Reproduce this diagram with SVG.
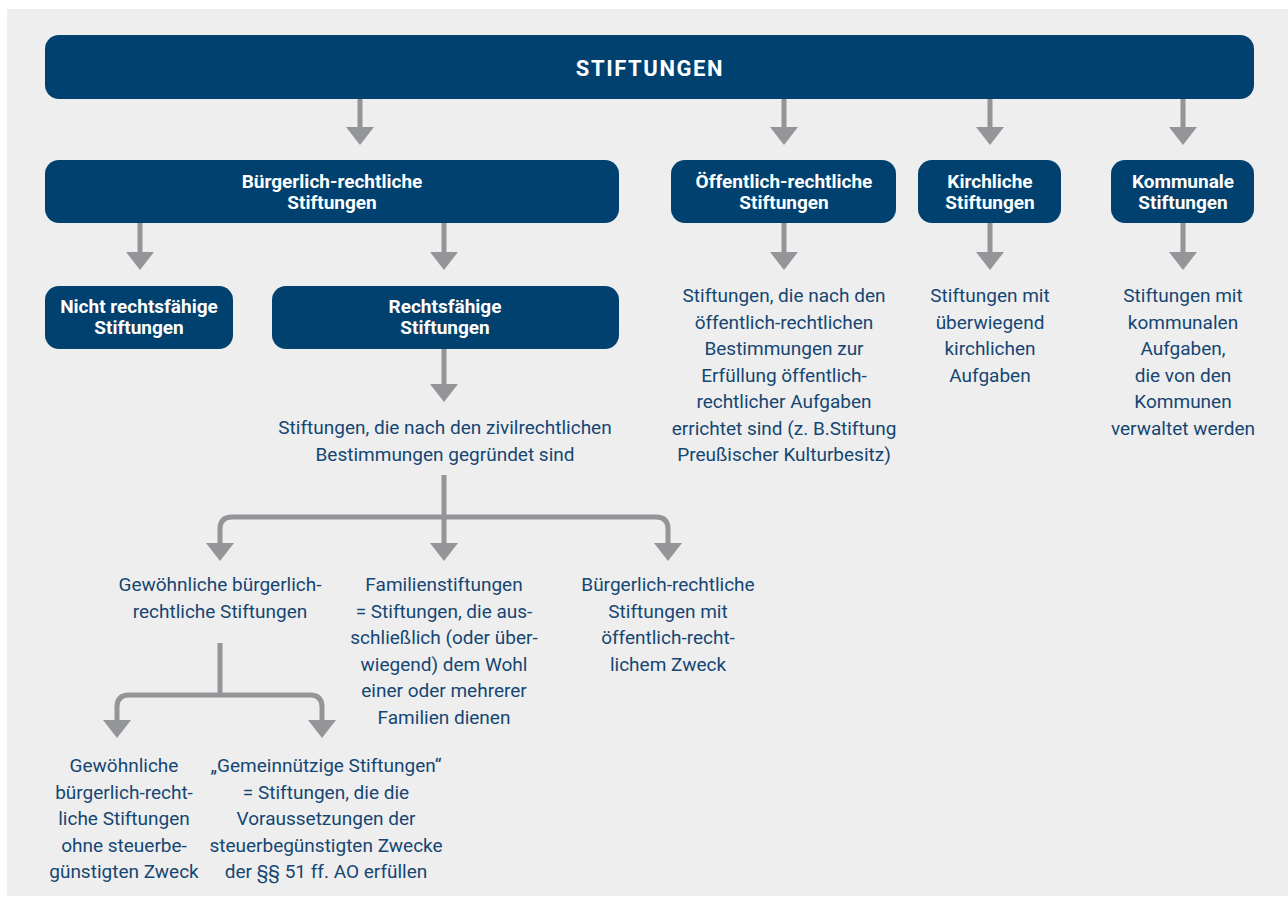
<svg xmlns="http://www.w3.org/2000/svg" width="1288" height="897" viewBox="0 0 1288 897">
  <style>
    .box { fill: #01416f; }
    .lbl { font-family: Roboto, "Liberation Sans", sans-serif; font-weight: bold; font-size: 19px; fill: #ffffff; text-anchor: middle; }
    .txt { font-family: Roboto, "Liberation Sans", sans-serif; font-size: 19px; fill: #154673; text-anchor: middle; }
    .con { fill: none; stroke: #939598; stroke-width: 5; }
  </style>
  <defs>
    <marker id="ah" viewBox="0 -14 18 28" refX="0" refY="0" markerWidth="18" markerHeight="28" markerUnits="userSpaceOnUse" orient="auto">
      <path d="M0,-14 L18,0 L0,14 z" fill="#939598"/>
    </marker>
  </defs>
  <rect x="0" y="0" width="1288" height="897" fill="#ffffff"/>
  <rect x="7" y="9" width="1281" height="887" fill="#eeeeee"/>

  <g id="connectors">
    <path class="con" d="M360,99 V127" marker-end="url(#ah)"/>
    <path class="con" d="M784,99 V127" marker-end="url(#ah)"/>
    <path class="con" d="M990,99 V127" marker-end="url(#ah)"/>
    <path class="con" d="M1183,99 V127" marker-end="url(#ah)"/>
    <path class="con" d="M140,223 V252" marker-end="url(#ah)"/>
    <path class="con" d="M444,223 V252" marker-end="url(#ah)"/>
    <path class="con" d="M784,223 V252" marker-end="url(#ah)"/>
    <path class="con" d="M990,223 V252" marker-end="url(#ah)"/>
    <path class="con" d="M1183,223 V252" marker-end="url(#ah)"/>
    <path class="con" d="M444,349 V384" marker-end="url(#ah)"/>
    <path class="con" d="M444,475 V543" marker-end="url(#ah)"/>
    <path class="con" d="M444,517 H232 Q220,517 220,529 V543" marker-end="url(#ah)"/>
    <path class="con" d="M444,517 H656 Q668,517 668,529 V543" marker-end="url(#ah)"/>
    <path class="con" d="M220,643 V695"/>
    <path class="con" d="M220,695 H129 Q117,695 117,707 V720" marker-end="url(#ah)"/>
    <path class="con" d="M220,695 H310 Q322,695 322,707 V720" marker-end="url(#ah)"/>
  </g>

  <g id="stiftungen">
    <rect class="box" x="45" y="35" width="1209" height="64" rx="14"/>
    <text class="lbl" x="650" y="76" style="font-size:22px;letter-spacing:1.6px">STIFTUNGEN</text>
  </g>
  <g id="buergerlich">
    <rect class="box" x="45" y="160" width="574" height="63" rx="14"/>
    <text class="lbl" x="332" y="188">Bürgerlich-rechtliche</text>
    <text class="lbl" x="332" y="209">Stiftungen</text>
  </g>
  <g id="oeffentlich">
    <rect class="box" x="671" y="160" width="225" height="63" rx="14"/>
    <text class="lbl" x="784" y="188">Öffentlich-rechtliche</text>
    <text class="lbl" x="784" y="209">Stiftungen</text>
  </g>
  <g id="kirchlich">
    <rect class="box" x="918" y="160" width="143" height="63" rx="14"/>
    <text class="lbl" x="990" y="188">Kirchliche</text>
    <text class="lbl" x="990" y="209">Stiftungen</text>
  </g>
  <g id="kommunal">
    <rect class="box" x="1111" y="160" width="143" height="63" rx="14"/>
    <text class="lbl" x="1183" y="188">Kommunale</text>
    <text class="lbl" x="1183" y="209">Stiftungen</text>
  </g>
  <g id="nicht-rechtsfaehig">
    <rect class="box" x="45" y="286" width="188" height="63" rx="14"/>
    <text class="lbl" x="139" y="313">Nicht rechtsfähige</text>
    <text class="lbl" x="139" y="334">Stiftungen</text>
  </g>
  <g id="rechtsfaehig">
    <rect class="box" x="272" y="286" width="347" height="63" rx="14"/>
    <text class="lbl" x="445" y="313">Rechtsfähige</text>
    <text class="lbl" x="445" y="334">Stiftungen</text>
  </g>

  <g id="oeffentlich-text">
    <text class="txt" x="784" y="302">Stiftungen, die nach den</text>
    <text class="txt" x="784" y="328.5">öffentlich-rechtlichen</text>
    <text class="txt" x="784" y="355">Bestimmungen zur</text>
    <text class="txt" x="784" y="381.5">Erfüllung öffentlich-</text>
    <text class="txt" x="784" y="408">rechtlicher Aufgaben</text>
    <text class="txt" x="784" y="434.5">errichtet sind (z. B.Stiftung</text>
    <text class="txt" x="784" y="461">Preußischer Kulturbesitz)</text>
  </g>
  <g id="kirchlich-text">
    <text class="txt" x="990" y="302">Stiftungen mit</text>
    <text class="txt" x="990" y="328.5">überwiegend</text>
    <text class="txt" x="990" y="355">kirchlichen</text>
    <text class="txt" x="990" y="381.5">Aufgaben</text>
  </g>
  <g id="kommunal-text">
    <text class="txt" x="1183" y="302">Stiftungen mit</text>
    <text class="txt" x="1183" y="328.5">kommunalen</text>
    <text class="txt" x="1183" y="355">Aufgaben,</text>
    <text class="txt" x="1183" y="381.5">die von den</text>
    <text class="txt" x="1183" y="408">Kommunen</text>
    <text class="txt" x="1183" y="434.5">verwaltet werden</text>
  </g>
  <g id="zivilrecht-text">
    <text class="txt" x="445" y="434">Stiftungen, die nach den zivilrechtlichen</text>
    <text class="txt" x="445" y="461">Bestimmungen gegründet sind</text>
  </g>
  <g id="gewoehnliche">
    <text class="txt" x="220" y="591">Gewöhnliche bürgerlich-</text>
    <text class="txt" x="220" y="618">rechtliche Stiftungen</text>
  </g>
  <g id="familien">
    <text class="txt" x="444" y="591">Familienstiftungen</text>
    <text class="txt" x="444" y="617.5">= Stiftungen, die aus-</text>
    <text class="txt" x="444" y="644">schließlich (oder über-</text>
    <text class="txt" x="444" y="670.5">wiegend) dem Wohl</text>
    <text class="txt" x="444" y="697">einer oder mehrerer</text>
    <text class="txt" x="444" y="723.5">Familien dienen</text>
  </g>
  <g id="oeffentlicher-zweck">
    <text class="txt" x="668" y="591">Bürgerlich-rechtliche</text>
    <text class="txt" x="668" y="617.5">Stiftungen mit</text>
    <text class="txt" x="668" y="644">öffentlich-recht-</text>
    <text class="txt" x="668" y="670.5">lichem Zweck</text>
  </g>
  <g id="ohne-zweck">
    <text class="txt" x="124" y="772">Gewöhnliche</text>
    <text class="txt" x="124" y="798.5">bürgerlich-recht-</text>
    <text class="txt" x="124" y="825">liche Stiftungen</text>
    <text class="txt" x="124" y="851.5">ohne steuerbe-</text>
    <text class="txt" x="124" y="878">günstigten Zweck</text>
  </g>
  <g id="gemeinnuetzig">
    <text class="txt" x="326" y="772">„Gemeinnützige Stiftungen“</text>
    <text class="txt" x="326" y="798.5">= Stiftungen, die die</text>
    <text class="txt" x="326" y="825">Voraussetzungen der</text>
    <text class="txt" x="326" y="851.5">steuerbegünstigten Zwecke</text>
    <text class="txt" x="326" y="878">der §§ 51 ff. AO erfüllen</text>
  </g>
</svg>
